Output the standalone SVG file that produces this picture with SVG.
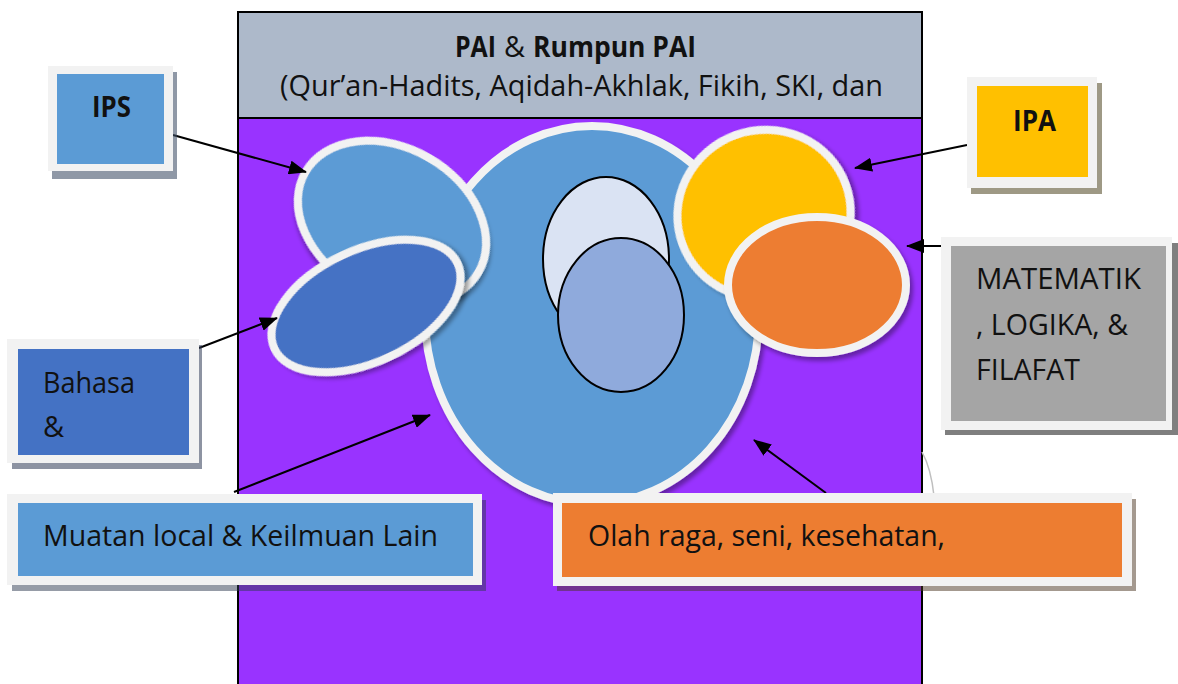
<svg xmlns="http://www.w3.org/2000/svg" width="1178" height="684" viewBox="0 0 1178 684">
<style>
.lbl{font-family:"Open Sans","Liberation Sans",sans-serif;font-size:29px;fill:#111}
.b{font-weight:bold}
.frame{fill:#F2F2F2}
.ell{stroke:#F2F2F2;stroke-width:8}
.inner{stroke:#000;stroke-width:2}
.conn line{stroke:#000;stroke-width:2;marker-end:url(#ah)}
</style>
<defs>
<marker id="ah" markerUnits="userSpaceOnUse" markerWidth="18" markerHeight="14" viewBox="0 0 18 14" refX="17" refY="7" orient="auto">
<path d="M0,0 L18,7 L0,14 z" fill="#000"/>
</marker>
<filter id="sh" x="-20%" y="-20%" width="140%" height="140%">
<feDropShadow dx="3" dy="4" stdDeviation="2" flood-color="#000" flood-opacity="0.35"/>
</filter>
</defs>
<rect width="1178" height="684" fill="#fff"/>

<g id="main-frame">
<rect x="238" y="118" width="684" height="580" fill="#9933FF" stroke="#000" stroke-width="2"/>
<rect x="238" y="12" width="684" height="106" fill="#ADB9CA" stroke="#000" stroke-width="2"/>
<text class="lbl b" x="455" y="57" textLength="41" lengthAdjust="spacingAndGlyphs">PAI</text>
<text class="lbl" x="504" y="57" textLength="21" lengthAdjust="spacingAndGlyphs">&amp;</text>
<text class="lbl b" x="533" y="57" textLength="163" lengthAdjust="spacingAndGlyphs">Rumpun PAI</text>
<text class="lbl" x="280" y="96" textLength="603" lengthAdjust="spacingAndGlyphs">(Qur’an-Hadits, Aqidah-Akhlak, Fikih, SKI, dan</text>
<path d="M922 452 Q931 468 934 496" fill="none" stroke="#BFBFBF" stroke-width="1.5"/>
</g>

<g id="ellipses">
<ellipse id="ell-center" class="ell" cx="592" cy="315" rx="167" ry="189" fill="#5B9BD5" filter="url(#sh)"/>
<ellipse id="ell-ips" class="ell" cx="392" cy="222" rx="100" ry="74" fill="#5B9BD5" transform="rotate(30 392 222)" filter="url(#sh)"/>
<ellipse id="ell-bahasa" class="ell" cx="366" cy="306" rx="101" ry="56" fill="#4472C4" transform="rotate(-25 366 306)" filter="url(#sh)"/>
<ellipse id="ell-ipa" class="ell" cx="764" cy="214" rx="87" ry="84" fill="#FFC000" transform="rotate(-20 764 214)" filter="url(#sh)"/>
<ellipse id="ell-mtk" class="ell" cx="817" cy="285" rx="89" ry="68" fill="#ED7D31" filter="url(#sh)"/>
<ellipse id="ell-inner1" class="inner" cx="606" cy="259" rx="63" ry="82" fill="#DAE3F3"/>
<ellipse id="ell-inner2" class="inner" cx="621" cy="315" rx="63" ry="77" fill="#8FAADC"/>
</g>

<g id="connectors" class="conn">
<line x1="173" y1="135" x2="306" y2="172"/>
<line x1="967" y1="145" x2="855" y2="168"/>
<line x1="941" y1="246" x2="907" y2="246"/>
<line x1="199" y1="348" x2="277" y2="318"/>
<line x1="234" y1="492" x2="430" y2="415"/>
<line x1="826" y1="493" x2="754" y2="440"/>
</g>

<g id="box-ips">
<rect x="52" y="72" width="125" height="107" fill="#44546A" opacity="0.6"/>
<rect class="frame" x="48" y="66" width="125" height="105"/>
<rect x="57" y="74" width="107" height="90" fill="#5B9BD5"/>
<text class="lbl b" x="92" y="117" textLength="39" lengthAdjust="spacingAndGlyphs">IPS</text>
</g>

<g id="box-ipa">
<rect x="971" y="83" width="131" height="111" fill="#5E5533" opacity="0.6"/>
<rect class="frame" x="967" y="77" width="130" height="111"/>
<rect x="977" y="86" width="111" height="91" fill="#FFC000"/>
<text class="lbl b" x="1013" y="131" textLength="43" lengthAdjust="spacingAndGlyphs">IPA</text>
</g>

<g id="box-mtk">
<rect x="945" y="243" width="233" height="192" fill="#000" opacity="0.5"/>
<rect class="frame" x="941" y="237" width="231" height="193"/>
<rect x="951" y="246" width="215" height="175" fill="#A5A5A5"/>
<text class="lbl" x="976" y="289" textLength="165" lengthAdjust="spacingAndGlyphs">MATEMATIK</text>
<text class="lbl" x="976" y="335" textLength="152" lengthAdjust="spacingAndGlyphs">, LOGIKA, &amp;</text>
<text class="lbl" x="976" y="380" textLength="104" lengthAdjust="spacingAndGlyphs">FILAFAT</text>
</g>

<g id="box-bahasa">
<rect x="12" y="345" width="190" height="124" fill="#2F3B55" opacity="0.55"/>
<rect class="frame" x="7" y="339" width="192" height="124"/>
<rect x="18" y="349" width="171" height="106" fill="#4472C4"/>
<text class="lbl" x="43" y="393" textLength="92" lengthAdjust="spacingAndGlyphs">Bahasa</text>
<text class="lbl" x="43" y="437">&amp;</text>
</g>

<g id="box-muatan">
<rect x="12" y="500" width="474" height="91" fill="#2E3A4F" opacity="0.5"/>
<rect class="frame" x="7" y="494" width="475" height="91"/>
<rect x="18" y="503" width="455" height="73" fill="#5B9BD5"/>
<text class="lbl" x="43" y="546" textLength="395" lengthAdjust="spacingAndGlyphs">Muatan local &amp; Keilmuan Lain</text>
</g>

<g id="box-olahraga">
<rect x="557" y="499" width="579" height="92" fill="#4A3320" opacity="0.5"/>
<rect class="frame" x="553" y="493" width="579" height="93"/>
<rect x="562" y="503" width="560" height="74" fill="#ED7D31"/>
<text class="lbl" x="588" y="546" textLength="357" lengthAdjust="spacingAndGlyphs">Olah raga, seni, kesehatan,</text>
</g>
</svg>
